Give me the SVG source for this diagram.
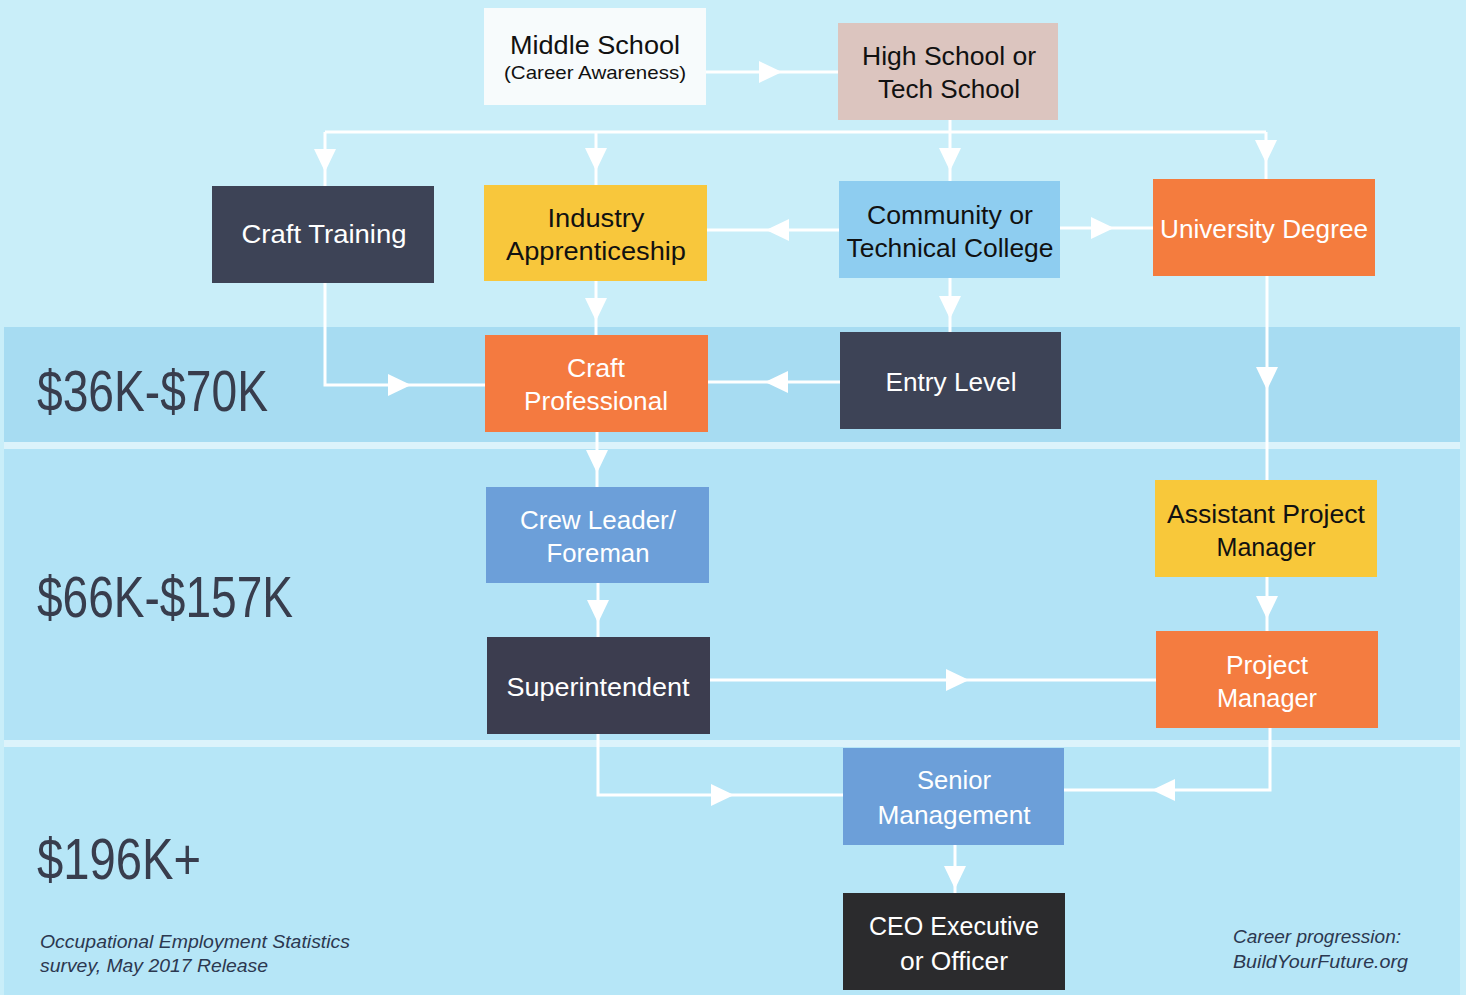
<svg xmlns="http://www.w3.org/2000/svg" xmlns:xlink="http://www.w3.org/1999/xlink" width="1466" height="995" viewBox="0 0 1466 995">
<defs>
<style>
.node text{font-family:"Liberation Sans","DejaVu Sans",sans-serif;font-size:25px;text-anchor:middle}
.dk{fill:#ffffff}
.lt{fill:#111111}
.sal{font-family:"Liberation Sans","DejaVu Sans",sans-serif;font-size:58px;fill:#383d4d}
.foot{font-family:"Liberation Sans","DejaVu Sans",sans-serif;font-size:19px;font-style:italic;fill:#2c3850}
.con path{fill:none;stroke:#ffffff;stroke-width:3}
.con use{fill:#ffffff}
</style>
<path id="ah" d="M0,0 L-23,-11 L-23,11 Z"/>
</defs>
<rect x="0" y="0" width="1466" height="995" fill="#c9eef9"/>
<rect x="4" y="327" width="1456" height="115" fill="#a7dcf2"/>
<rect x="4" y="442" width="1456" height="7" fill="#dcf3fb"/>
<rect x="4" y="449" width="1456" height="291" fill="#b2e3f6"/>
<rect x="4" y="740" width="1456" height="7" fill="#dcf3fb"/>
<rect x="4" y="747" width="1456" height="248" fill="#b6e6f7"/>

<g id="salaries">
<text class="sal" x="37" y="411" textLength="231" lengthAdjust="spacingAndGlyphs">$36K-$70K</text>
<text class="sal" x="37" y="617" textLength="256" lengthAdjust="spacingAndGlyphs">$66K-$157K</text>
<text class="sal" x="37" y="879" textLength="164" lengthAdjust="spacingAndGlyphs">$196K+</text>
</g>
<g id="footer">
<text class="foot" x="40" y="948" textLength="310" lengthAdjust="spacingAndGlyphs">Occupational Employment Statistics</text>
<text class="foot" x="40" y="972" textLength="228" lengthAdjust="spacingAndGlyphs">survey, May 2017 Release</text>
<text class="foot" x="1233" y="943" textLength="168" lengthAdjust="spacingAndGlyphs">Career progression:</text>
<text class="foot" x="1233" y="968" textLength="175" lengthAdjust="spacingAndGlyphs">BuildYourFuture.org</text>
</g>

<g id="connectors" class="con">
<path d="M706,72 H838"/><use xlink:href="#ah" transform="translate(782,72)"/>
<path d="M325,132 H1266"/>
<path d="M950,120 V181"/><use xlink:href="#ah" transform="translate(950,171) rotate(90)"/>
<path d="M325,132 V186"/><use xlink:href="#ah" transform="translate(325,172) rotate(90)"/>
<path d="M596,132 V185"/><use xlink:href="#ah" transform="translate(596,171) rotate(90)"/>
<path d="M1266,132 V179"/><use xlink:href="#ah" transform="translate(1266,163) rotate(90)"/>
<path d="M839,230 H707"/><use xlink:href="#ah" transform="translate(766,230) rotate(180)"/>
<path d="M1060,228 H1153"/><use xlink:href="#ah" transform="translate(1114,228)"/>
<path d="M950,278 V332"/><use xlink:href="#ah" transform="translate(950,319) rotate(90)"/>
<path d="M596,281 V335"/><use xlink:href="#ah" transform="translate(596,321) rotate(90)"/>
<path d="M325,283 V385 H485"/><use xlink:href="#ah" transform="translate(411,385)"/>
<path d="M840,382 H708"/><use xlink:href="#ah" transform="translate(765,382) rotate(180)"/>
<path d="M1267,276 V480"/><use xlink:href="#ah" transform="translate(1267,390) rotate(90)"/>
<path d="M597,432 V487"/><use xlink:href="#ah" transform="translate(597,473) rotate(90)"/>
<path d="M598,583 V637"/><use xlink:href="#ah" transform="translate(598,623) rotate(90)"/>
<path d="M1267,577 V631"/><use xlink:href="#ah" transform="translate(1267,619) rotate(90)"/>
<path d="M710,680 H1156"/><use xlink:href="#ah" transform="translate(969,680)"/>
<path d="M598,734 V795 H843"/><use xlink:href="#ah" transform="translate(734,795)"/>
<path d="M1270,728 V790 H1064"/><use xlink:href="#ah" transform="translate(1152,790) rotate(180)"/>
<path d="M955,845 V893"/><use xlink:href="#ah" transform="translate(955,889) rotate(90)"/>
</g>

<g id="middle-school" class="node">
<rect x="484" y="8" width="222" height="97" fill="#f7fbfc"/>
<text class="lt" x="595" y="54" textLength="170" lengthAdjust="spacingAndGlyphs">Middle School</text>
<text class="lt" x="595" y="79" style="font-size:19px" textLength="182" lengthAdjust="spacingAndGlyphs">(Career Awareness)</text>
</g>
<g id="high-school" class="node">
<rect x="838" y="23" width="220" height="97" fill="#dcc5bf"/>
<text class="lt" x="949" y="65" textLength="174" lengthAdjust="spacingAndGlyphs">High School or</text>
<text class="lt" x="949" y="98" textLength="142" lengthAdjust="spacingAndGlyphs">Tech School</text>
</g>
<g id="craft-training" class="node">
<rect x="212" y="186" width="222" height="97" fill="#3d4356"/>
<text class="dk" x="324" y="243" textLength="165" lengthAdjust="spacingAndGlyphs">Craft Training</text>
</g>
<g id="industry-apprenticeship" class="node">
<rect x="484" y="185" width="223" height="96" fill="#f8c73c"/>
<text class="lt" x="596" y="227" textLength="97" lengthAdjust="spacingAndGlyphs">Industry</text>
<text class="lt" x="596" y="260" textLength="180" lengthAdjust="spacingAndGlyphs">Apprenticeship</text>
</g>
<g id="community-college" class="node">
<rect x="839" y="181" width="221" height="97" fill="#8ecdf0"/>
<text class="lt" x="950" y="224" textLength="166" lengthAdjust="spacingAndGlyphs">Community or</text>
<text class="lt" x="950" y="257" textLength="207" lengthAdjust="spacingAndGlyphs">Technical College</text>
</g>
<g id="university-degree" class="node">
<rect x="1153" y="179" width="222" height="97" fill="#f47c3e"/>
<text class="dk" x="1264" y="238" textLength="208" lengthAdjust="spacingAndGlyphs">University Degree</text>
</g>
<g id="craft-professional" class="node">
<rect x="485" y="335" width="223" height="97" fill="#f47a40"/>
<text class="dk" x="596" y="377" textLength="58" lengthAdjust="spacingAndGlyphs">Craft</text>
<text class="dk" x="596" y="410" textLength="144" lengthAdjust="spacingAndGlyphs">Professional</text>
</g>
<g id="entry-level" class="node">
<rect x="840" y="332" width="221" height="97" fill="#3d4356"/>
<text class="dk" x="951" y="391" textLength="131" lengthAdjust="spacingAndGlyphs">Entry Level</text>
</g>
<g id="crew-leader" class="node">
<rect x="486" y="487" width="223" height="96" fill="#6c9fd9"/>
<text class="dk" x="598" y="529" textLength="156" lengthAdjust="spacingAndGlyphs">Crew Leader/</text>
<text class="dk" x="598" y="562" textLength="103" lengthAdjust="spacingAndGlyphs">Foreman</text>
</g>
<g id="superintendent" class="node">
<rect x="487" y="637" width="223" height="97" fill="#3c3d4f"/>
<text class="dk" x="598" y="696" textLength="183" lengthAdjust="spacingAndGlyphs">Superintendent</text>
</g>
<g id="assistant-pm" class="node">
<rect x="1155" y="480" width="222" height="97" fill="#f8c83a"/>
<text class="lt" x="1266" y="523" textLength="198" lengthAdjust="spacingAndGlyphs">Assistant Project</text>
<text class="lt" x="1266" y="556" textLength="99" lengthAdjust="spacingAndGlyphs">Manager</text>
</g>
<g id="project-manager" class="node">
<rect x="1156" y="631" width="222" height="97" fill="#f47c40"/>
<text class="dk" x="1267" y="674" textLength="82" lengthAdjust="spacingAndGlyphs">Project</text>
<text class="dk" x="1267" y="707" textLength="100" lengthAdjust="spacingAndGlyphs">Manager</text>
</g>
<g id="senior-management" class="node">
<rect x="843" y="748" width="221" height="97" fill="#6c9fd9"/>
<text class="dk" x="954" y="789" textLength="74" lengthAdjust="spacingAndGlyphs">Senior</text>
<text class="dk" x="954" y="824" textLength="153" lengthAdjust="spacingAndGlyphs">Management</text>
</g>
<g id="ceo" class="node">
<rect x="843" y="893" width="222" height="97" fill="#2b2b2d"/>
<text class="dk" x="954" y="935" textLength="170" lengthAdjust="spacingAndGlyphs">CEO Executive</text>
<text class="dk" x="954" y="970" textLength="108" lengthAdjust="spacingAndGlyphs">or Officer</text>
</g>
</svg>
